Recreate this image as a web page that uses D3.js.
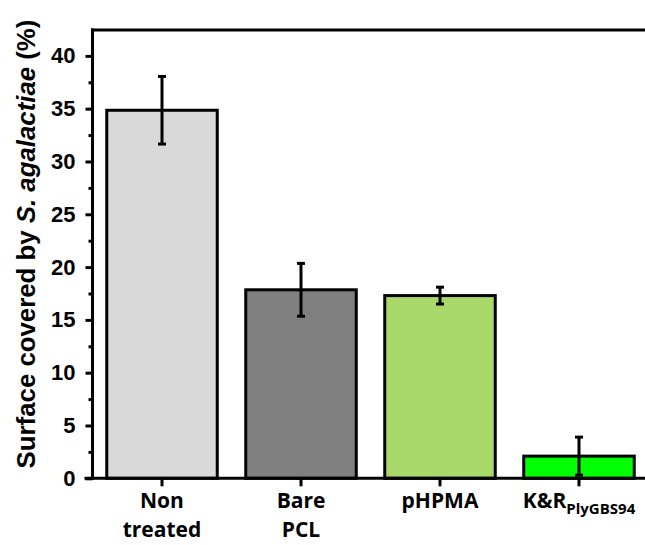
<!DOCTYPE html>
<html>
<head>
<meta charset="utf-8">
<script src="https://cdn.jsdelivr.net/npm/d3@7"></script>
<style>
  html, body { margin: 0; padding: 0; background: #fff; }
  svg { display: block; }
</style>
</head>
<body>
<svg id="chart" width="645" height="545"></svg>
<script>
// Surface coverage per treatment (mean and error)
const categories = ["Non treated", "Bare PCL", "pHPMA", "K&R PlyGBS94"];
const values = [34.85, 17.85, 17.3, 2.1];
const errors = [3.2, 2.5, 0.8, 1.8];
const barColors = ["#d9d9d9", "#808080", "#a9d96b", "#00ff00"];
// Category labels: main text lines plus optional subscript on last line
const labelLines = [["Non", "treated"], ["Bare", "PCL"], ["pHPMA"], ["K&R"]];
const labelSubs = [null, null, null, "PlyGBS94"];
const yMajorTicks = [0, 5, 10, 15, 20, 25, 30, 35, 40];
const yMinorTicks = [2.5, 7.5, 12.5, 17.5, 22.5, 27.5, 32.5, 37.5];

const svg = d3.select("#chart");
const axisX = 92.5, baseY = 478.3, topY = 30;

const x = d3.scaleBand()
  .domain(categories)
  .range([axisX, axisX + 4 * 139])
  .paddingInner(0.205)
  .paddingOuter(0.1025);

const y = d3.scaleLinear().domain([0, 42.45]).range([baseY, topY]);

// Bars
svg.append("g").selectAll("rect")
  .data(categories)
  .join("rect")
  .attr("x", d => x(d))
  .attr("width", x.bandwidth())
  .attr("y", (d, i) => y(values[i]))
  .attr("height", (d, i) => y(0) - y(values[i]))
  .attr("fill", (d, i) => barColors[i])
  .attr("stroke", "#000")
  .attr("stroke-width", 3);

// Error bars
const eb = svg.append("g").attr("stroke", "#000").attr("stroke-width", 3);
categories.forEach((c, i) => {
  const cx = x(c) + x.bandwidth() / 2;
  const lo = y(values[i] - errors[i]), hi = y(values[i] + errors[i]);
  eb.append("line").attr("x1", cx).attr("x2", cx).attr("y1", lo).attr("y2", hi);
  eb.append("line").attr("x1", cx - 4).attr("x2", cx + 4).attr("y1", lo).attr("y2", lo);
  eb.append("line").attr("x1", cx - 4).attr("x2", cx + 4).attr("y1", hi).attr("y2", hi);
});

// Y axis: major ticks with labels
const yAxis = svg.append("g")
  .attr("transform", `translate(${axisX},0)`)
  .call(d3.axisLeft(y).tickValues(yMajorTicks).tickSize(7).tickPadding(10).tickSizeOuter(0));
yAxis.select(".domain").remove();
yAxis.selectAll(".tick line").attr("stroke", "#000").attr("stroke-width", 3);
yAxis.selectAll(".tick text")
  .attr("font-family", "'Liberation Sans', Arial, sans-serif")
  .attr("font-weight", "bold")
  .attr("font-size", 22)
  .attr("fill", "#000");

// Y axis: minor ticks
const yMinor = svg.append("g")
  .attr("transform", `translate(${axisX},0)`)
  .call(d3.axisLeft(y).tickValues(yMinorTicks).tickSize(4).tickFormat(""));
yMinor.select(".domain").remove();
yMinor.selectAll(".tick line").attr("stroke", "#000").attr("stroke-width", 3);

// X axis ticks at category centres
const xAxis = svg.append("g")
  .attr("transform", `translate(0,${baseY})`)
  .call(d3.axisBottom(x).tickSize(8).tickFormat(""));
xAxis.select(".domain").remove();
xAxis.selectAll(".tick line").attr("stroke", "#000").attr("stroke-width", 3);

// Frame lines: left axis, bottom axis, top line
const frame = svg.append("g").attr("stroke", "#000").attr("stroke-width", 3).attr("fill", "none");
frame.append("line").attr("x1", axisX).attr("x2", axisX).attr("y1", topY - 1.5).attr("y2", baseY + 1.5);
frame.append("line").attr("x1", axisX - 8).attr("x2", 645).attr("y1", baseY).attr("y2", baseY);
frame.append("line").attr("x1", axisX - 1.5).attr("x2", 645).attr("y1", topY).attr("y2", topY);

// Category labels
const lab = svg.append("g")
  .attr("font-family", "'Open Sans', Lato, sans-serif")
  .attr("font-weight", "bold")
  .attr("font-size", 21)
  .attr("fill", "#000")
  .attr("text-anchor", "middle");
categories.forEach((c, i) => {
  const cx = x(c) + x.bandwidth() / 2;
  labelLines[i].forEach((line, j) => {
    const t = lab.append("text").attr("x", cx).attr("y", 508 + j * 29);
    t.append("tspan").text(line);
    if (labelSubs[i] && j === labelLines[i].length - 1) {
      t.append("tspan").attr("font-size", 15).attr("dy", 6).text(labelSubs[i]);
    }
  });
});

// Y axis title
const title = svg.append("text")
  .attr("transform", `translate(35,244) rotate(-90)`)
  .attr("text-anchor", "middle")
  .attr("font-family", "'Liberation Sans', Arial, sans-serif")
  .attr("font-weight", "bold")
  .attr("font-size", 25.8)
  .attr("fill", "#000");
title.append("tspan").text("Surface covered by ");
title.append("tspan").attr("font-style", "italic").text("S. agalactiae");
title.append("tspan").text(" (%)");
</script>
</body>
</html>
